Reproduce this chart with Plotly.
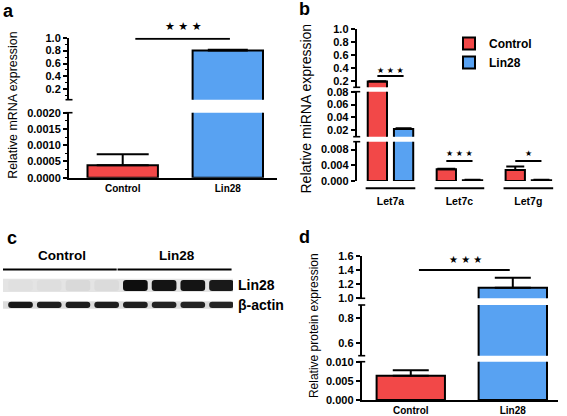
import plotly.graph_objects as go

W, H = 567, 416


def px(x):
    return x / W


def py(y):
    return 1 - y / H


# ---------------- data ----------------
a_groups = ["Control", "Lin28"]
a_mean = [0.00038, 0.80]
a_sem = [0.00034, 0.012]

b_genes = ["Let7a", "Let7c", "Let7g"]
b_series = ["Control", "Lin28"]
b_ctrl = [0.190, 0.0030, 0.0028]
b_ctrl_sem = [0.005, 0.0001, 0.0009]
b_lin = [0.0220, 0.0002, 0.0002]
b_lin_sem = [0.0012, 0.0001, 0.0001]
b_stars = ["★ ★ ★", "★ ★ ★", "★"]

c_lanes = [0, 1, 2, 3, 4, 5, 6, 7]
c_lane_group = ["Control"] * 4 + ["Lin28"] * 4
c_lin28_intensity = [0.02, 0.03, 0.05, 0.04, 1.0, 0.97, 0.97, 0.95]
c_actin_intensity = [0.95, 0.92, 0.93, 0.93, 0.92, 0.90, 0.90, 0.89]
c_rows = ["Lin28", "β-actin"]

d_groups = ["Control", "Lin28"]
d_mean = [0.0063, 1.15]
d_sem = [0.0015, 0.14]

# ---------------- styles ----------------
RED = "#F24848"
BLUE = "#58A2F2"
FONT = "Liberation Sans"
COLORS = {"Control": RED, "Lin28": BLUE}

fig = go.Figure()

tickfont = dict(family=FONT, size=11, color="black", weight="bold")


def yax(dom_px, rng, tickvals, fmt, anchor, minor=None):
    d = dict(
        domain=[py(dom_px[0]), py(dom_px[1])], range=rng, tickvals=tickvals,
        tickformat=fmt, anchor=anchor, showline=True, linecolor="black",
        linewidth=2, ticks="outside", ticklen=4, tickwidth=1.5,
        tickcolor="black", showgrid=False, zeroline=False, tickfont=tickfont,
        fixedrange=True, automargin=False,
    )
    if minor:
        d["minor"] = minor
    return d


def err(vals, cap):
    return dict(type="data", array=vals, arrayminus=[0] * len(vals),
                symmetric=False, color="black", thickness=2, width=cap)


# ---------------- panel a ----------------
a_caps = [26, 20]
for ya in ["y", "y2"]:
    for i, g in enumerate(a_groups):
        fig.add_trace(go.Bar(
            x=[g], y=[a_mean[i]], width=0.67,
            marker=dict(color=COLORS[g], line=dict(color="black", width=2)),
            error_y=err([a_sem[i]], a_caps[i]),
            xaxis="x", yaxis=ya, showlegend=False, name=g,
        ))

# ---------------- panel b ----------------
b_axes = ["y3", "y4", "y5"]
for k, ya in enumerate(b_axes):
    fig.add_trace(go.Bar(
        x=list(range(len(b_genes))), y=b_ctrl, width=0.28, offset=-0.33,
        marker=dict(color=RED, line=dict(color="black", width=2)),
        error_y=err(b_ctrl_sem, 9), xaxis="x2", yaxis=ya,
        name=b_series[0], showlegend=(k == 0), legendgroup="c",
    ))
    fig.add_trace(go.Bar(
        x=list(range(len(b_genes))), y=b_lin, width=0.28, offset=0.05,
        marker=dict(color=BLUE, line=dict(color="black", width=2)),
        error_y=err(b_lin_sem, 8), xaxis="x2", yaxis=ya,
        name=b_series[1], showlegend=(k == 0), legendgroup="l",
    ))


# ---------------- panel c (blot) ----------------
def gray(i, bg):
    v = int(round(bg - i * (bg - 14)))
    return f"rgb({v},{v},{v})"


fig.add_trace(go.Bar(
    x=c_lanes, y=[1.1] * len(c_lanes), base=[1.8] * len(c_lanes), width=0.86,
    marker=dict(color=[gray(v, 228) for v in c_lin28_intensity], line=dict(width=0),
                cornerradius=3),
    xaxis="x3", yaxis="y6", showlegend=False, name=c_rows[0],
))
fig.add_trace(go.Bar(
    x=c_lanes, y=[0.62] * len(c_lanes), base=[0.1] * len(c_lanes), width=0.86,
    marker=dict(color=[gray(v, 222) for v in c_actin_intensity], line=dict(width=0),
                cornerradius=3),
    xaxis="x3", yaxis="y6", showlegend=False, name=c_rows[1],
))

# ---------------- panel d ----------------
d_caps = [18, 18]
for ya in ["y7", "y8", "y9"]:
    for i, g in enumerate(d_groups):
        fig.add_trace(go.Bar(
            x=[g], y=[d_mean[i]], width=0.67,
            marker=dict(color=COLORS[g], line=dict(color="black", width=2)),
            error_y=err([d_sem[i]], d_caps[i]),
            xaxis="x4", yaxis=ya, showlegend=False, name=g,
        ))

# ---------------- axes ----------------
a_lo = (177.7, 112.7)
a_hi = (99.7, 37.7)
b_lo = (181, 141.7)
b_mid = (136.7, 91.7)
b_hi = (87.3, 29.3)
d_lo = (400, 361.7)
d_mid = (355.7, 305)
d_hi = (298.3, 256)

layout = dict(
    width=W, height=H, margin=dict(l=0, r=0, t=0, b=0, autoexpand=False),
    paper_bgcolor="white", plot_bgcolor="white", barmode="overlay",
    font=dict(family=FONT, color="black"),
    showlegend=True,
    legend=dict(x=px(449), y=py(29), xanchor="left", yanchor="top",
                font=dict(family=FONT, size=12, color="black", weight="bold"),
                bgcolor="rgba(0,0,0,0)", tracegroupgap=0, itemwidth=30),
    xaxis=dict(domain=[px(69), px(277)], range=[-0.511, 1.468], type="category",
               categoryarray=a_groups, anchor="y", showline=True, linecolor="black",
               linewidth=2, ticks="", showgrid=False, fixedrange=True, automargin=False,
               tickfont=dict(family=FONT, size=10, color="black", weight="bold")),
    yaxis=yax(a_lo, [0, 0.002], [0, 0.0005, 0.001, 0.0015, 0.002], ".4f", "x",
              minor=dict(ticks="outside", ticklen=2.5, tickwidth=1.2, dtick=0.00025,
                         tick0=0, tickcolor="black", showgrid=False)),
    yaxis2=yax(a_hi, [0.04, 1.0], [0.2, 0.4, 0.6, 0.8, 1.0], ".1f", "x",
               minor=dict(ticks="outside", ticklen=2.5, tickwidth=1.2, dtick=0.1,
                          tick0=0, tickcolor="black", showgrid=False)),
    xaxis2=dict(domain=[px(356.7), px(558)], range=[-0.49, 2.43], anchor="y3",
                tickvals=list(range(len(b_genes))), ticktext=b_genes, showline=False,
                ticks="", showgrid=False, zeroline=False, ticklabelstandoff=12,
                fixedrange=True, automargin=False,
                tickfont=dict(family=FONT, size=10.5, color="black", weight="bold")),
    yaxis3=yax(b_lo, [0, 0.010], [0, 0.004, 0.008], ".3f", "x2"),
    yaxis4=yax(b_mid, [0.01, 0.08], [0.02, 0.04, 0.06, 0.08], ".2f", "x2"),
    yaxis5=yax(b_hi, [0.1, 1.0], [0.2, 0.4, 0.6, 0.8, 1.0], ".1f", "x2"),
    xaxis3=dict(domain=[px(3), px(233)], range=[-0.61, 7.4], anchor="y6",
                visible=False, fixedrange=True),
    yaxis6=dict(domain=[py(309), py(278)], range=[0, 3.1], anchor="x3",
                visible=False, fixedrange=True),
    xaxis4=dict(domain=[px(361.7), px(558)], range=[-0.481, 1.443], type="category",
                categoryarray=d_groups, anchor="y7", showline=True, linecolor="black",
                linewidth=2, ticks="", showgrid=False, fixedrange=True, automargin=False,
                tickfont=dict(family=FONT, size=10, color="black", weight="bold")),
    yaxis7=yax(d_lo, [0, 0.010], [0, 0.005, 0.010], ".3f", "x4"),
    yaxis8=yax(d_mid, [0.5, 0.9], [0.6, 0.8], ".1f", "x4"),
    yaxis9=yax(d_hi, [1.0, 1.6], [1.0, 1.2, 1.4, 1.6], ".1f", "x4"),
)
fig.update_layout(**layout)

shapes = []
annotations = []


def line(**kw):
    d = dict(type="line", line=dict(color="black", width=2))
    d.update(kw)
    shapes.append(d)


def text(t, x, y, size, family=FONT, bold=False, xref="paper", xanchor="center",
         angle=0):
    annotations.append(dict(
        text=t, x=x, y=y, xref=xref, yref="paper", showarrow=False,
        xanchor=xanchor, yanchor="middle", textangle=angle,
        font=dict(family=family, size=size, color="black",
                  weight="bold" if bold else "normal")))


# break caps on the broken axes
for ax_x, segs in [(69, [a_lo, a_hi]), (356.7, [b_lo, b_mid, b_hi]),
                   (361.7, [d_lo, d_mid, d_hi])]:
    for lo, hi in zip(segs[:-1], segs[1:]):
        for yy in (lo[1], hi[0]):
            line(xref="paper", yref="paper", x0=px(ax_x - 3.5), x1=px(ax_x + 3.5),
                 y0=py(yy), y1=py(yy), line=dict(color="black", width=1.6))

# significance: panel a
line(xref="x", yref="y2", x0=0.12, x1=1.02, y0=0.985, y1=0.985)
text("★ ★ ★", px(183), py(27), 11, family="DejaVu Sans")

# significance: panel b
b_sig_axes = ["y5", "y3", "y3"]
b_sig_y = [0.275, 0.00506, 0.00506]
b_star_py = [70.5, 153.3, 153.3]
for i in range(len(b_genes)):
    line(xref="x2", yref=b_sig_axes[i], x0=i - 0.19, x1=i + 0.19,
         y0=b_sig_y[i], y1=b_sig_y[i])
    text(b_stars[i], i, py(b_star_py[i]), 8, family="DejaVu Sans", xref="x2")
    # group underline
    line(xref="x2", yref="paper", x0=i - 0.36, x1=i + 0.36, y0=py(188.3), y1=py(188.3))

# significance: panel d
line(xref="x4", yref="y9", x0=0.08, x1=0.97, y0=1.40, y1=1.40)
text("★ ★ ★", px(465), py(259.3), 10, family="DejaVu Sans")

# panel c: strips, group lines, labels
shapes.append(dict(type="rect", xref="x3 domain", yref="y6", x0=0, x1=1, y0=1.7, y1=3.03,
                   fillcolor="#e4e4e4", line=dict(width=0), layer="below"))
shapes.append(dict(type="rect", xref="x3 domain", yref="y6", x0=0, x1=1, y0=0.03, y1=0.77,
                   fillcolor="#dcdcdc", line=dict(width=0), layer="below"))
for g in ["Control", "Lin28"]:
    lanes = [l for l, gg in zip(c_lanes, c_lane_group) if gg == g]
    line(xref="x3", yref="paper", x0=min(lanes) - 0.62, x1=max(lanes) + 0.35,
         y0=py(269.5), y1=py(269.5))
    text(g, sum(lanes) / len(lanes) - 0.05, py(255), 13.5, bold=True, xref="x3")
for name, yy in zip(c_rows, [285.3, 305.3]):
    text(name, px(236), py(yy), 14, bold=True, xanchor="left")

# y titles
for t, x, y, s in [("Relative mRNA expression", 13, 105.8, 12.4),
                   ("Relative miRNA expression", 305, 108.5, 14),
                   ("Relative protein expression", 313.3, 325.8, 12)]:
    text(t, px(x), py(y), s, angle=-90)

# panel letters
for t, x, y in [("a", 8.5, 11), ("b", 304, 9.5), ("c", 12, 238), ("d", 304, 236.5)]:
    text(t, px(x), py(y), 18, bold=True)

fig.update_layout(shapes=shapes, annotations=annotations)
fig.write_html("out.html", config={"displayModeBar": False},
               post_script="document.body.style.margin='0px';"
                           "document.body.style.overflow='hidden';")
